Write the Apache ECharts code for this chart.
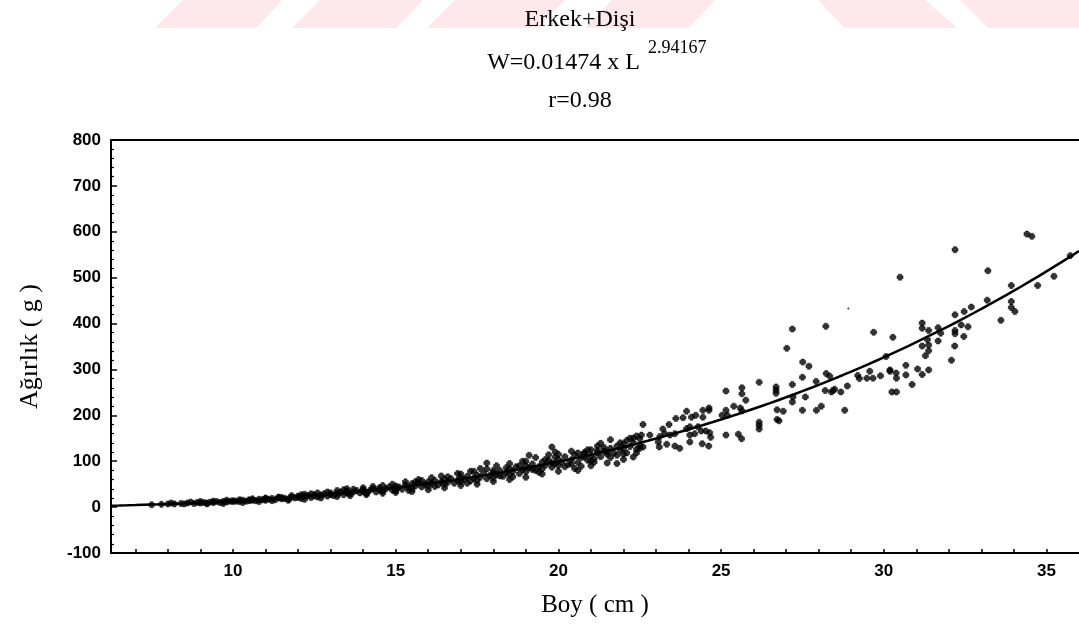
<!DOCTYPE html>
<html>
<head>
<meta charset="utf-8">
<script src="https://cdn.jsdelivr.net/npm/echarts@6/dist/echarts.min.js"></script>
<style>
  html, body { margin: 0; padding: 0; background: #fff; }
  #chart { width: 1079px; height: 637px; }
</style>
</head>
<body>
<div id="chart"></div>
<script>
// Length–weight relation W = a · L^b (both sexes pooled)
const katsayiA = 0.01474;
const usB = 2.94167;
const korelasyon = 0.98;

// Axis ticks
const boyEtiketleri = [10, 15, 20, 25, 30, 35];
const boyAraTikler = [7, 8, 9, 10, 11, 12, 13, 14, 15, 16, 17, 18, 19, 20, 21, 22, 23, 24, 25,
  26, 27, 28, 29, 30, 31, 32, 33, 34, 35];
const boyMin = 6.25, boyMax = 36;
const agirlikMin = -100, agirlikMax = 800, agirlikAdim = 100;

// Measured fish [length cm, weight g] — small fish
const olcumKucuk = [
  [7.5,5],[7.8,6],[8.0,7],[8.1,9],[8.2,7],[8.4,8],[8.5,7],[8.6,9],[8.7,11],[8.8,8],[8.9,10],
  [9.0,9],[9.0,12],[9.1,10],[9.2,9],[9.2,7],[9.3,11],[9.4,10],[9.4,13],[9.5,12],[9.6,10],
  [9.7,12],[9.7,8],[9.8,11],[9.8,15],[9.9,13],
  [10.0,12],[10.0,14],[10.1,13],[10.2,12],[10.2,16],[10.3,15],[10.3,10],[10.4,13],[10.5,14],
  [10.5,16],[10.6,15],[10.6,18],[10.7,14],[10.8,17],[10.8,12],[10.9,16],[11.0,15],[11.0,18],
  [11.0,20],[11.1,17],[11.2,19],[11.2,14],[11.3,16],[11.4,20],[11.4,22],[11.5,18],[11.5,21],
  [11.6,19],[11.7,17],[11.7,15],[11.8,22],[11.8,25],[11.9,20],[12.0,21],[12.0,24],[12.1,19],
  [12.1,27],[12.2,23],[12.2,28],[12.2,17],[12.3,25],[12.4,21],[12.4,29],[12.5,24],[12.5,27],
  [12.6,22],[12.6,31],[12.7,26],[12.7,20],[12.8,29],[12.9,24],[12.9,33],[13.0,27],[13.0,31],
  [13.1,25],[13.2,29],[13.2,36],[13.2,23],[13.3,33],[13.4,27],[13.4,38],[13.5,31],[13.5,35],
  [13.5,40],[13.6,29],[13.6,25],[13.7,33],[13.7,39],[13.8,36],[13.9,31],[14.0,34],[14.0,38],
  [14.0,42],[14.1,30],[14.1,27],[14.2,36],[14.3,40],[14.3,45],[14.4,33],[14.5,38],[14.5,42],
  [14.6,35],[14.6,47],[14.6,30],[14.7,40],[14.8,44],[14.9,37],[14.9,50],[15.0,41],[15.0,46],
  [15.0,36],[15.0,32]
];

// Medium fish
const olcumOrta = [
  [15.1,44],[15.2,39],[15.3,48],[15.3,55],[15.4,43],[15.4,36],[15.5,51],[15.5,40],[15.5,34],
  [15.6,46],[15.6,55],[15.7,53],[15.7,60],[15.8,44],[15.8,58],[15.9,50],[16.0,55],[16.0,46],
  [16.0,38],[16.1,52],[16.1,64],[16.2,58],[16.2,45],[16.3,48],[16.4,55],[16.4,68],[16.5,60],
  [16.5,50],[16.5,42],[16.6,54],[16.6,66],[16.7,62],[16.8,52],[16.9,58],[16.9,73],[17.0,64],
  [17.0,55],[17.0,72],[17.0,47],[17.1,60],[17.2,67],[17.2,52],[17.3,57],[17.3,78],[17.4,63],
  [17.4,78],[17.5,70],[17.5,58],[17.5,50],[17.6,65],[17.6,84],[17.7,74],[17.8,62],[17.8,96],
  [17.8,83],[17.9,69],[18.0,75],[18.0,64],[18.0,80],[18.0,56],[18.1,71],[18.1,90],[18.2,80],
  [18.2,68],[18.3,67],[18.4,76],[18.4,86],[18.5,84],[18.5,70],[18.5,95],[18.5,60],[18.6,78],
  [18.6,66],[18.7,88],[18.8,73],[18.8,90],[18.9,82],[18.9,100],[19.0,90],[19.0,77],[19.0,100],
  [19.0,65],[19.1,85],[19.1,113],[19.2,94],[19.2,82],[19.3,80],[19.3,108],[19.4,88],[19.4,76],
  [19.5,98],[19.5,83],[19.5,72],[19.6,91],[19.6,104],[19.7,102],[19.7,114],[19.8,87],[19.8,131],
  [19.8,96],[19.9,95],[19.9,120],[19.9,109],[20.0,104],[20.0,90],[20.0,115],[20.0,78],[20.1,98],
  [20.2,110],[20.2,88],[20.3,93],[20.4,103],[20.4,122],[20.4,94],[20.5,114],[20.5,84],[20.6,97],
  [20.6,80],[20.6,118],[20.7,108],[20.7,89],[20.8,119],[20.8,109],[20.8,117],[20.9,102],
  [20.9,125],[21.0,113],[21.0,125],[21.0,100],[21.0,90],[21.1,106],[21.1,98],[21.2,118],
  [21.2,124],[21.2,133],[21.3,110],[21.3,139],[21.4,122],[21.4,130],[21.5,115],[21.5,120],
  [21.5,96],[21.6,128],[21.6,147],[21.6,108],[21.7,118],[21.8,113],[21.8,95],[21.8,133],
  [21.9,124],[21.9,140],[22.0,138],[22.0,128],[22.0,115],[22.0,104],[22.1,118],[22.1,145],
  [22.2,132],[22.2,150],[22.3,109],[22.3,150],[22.3,140],[22.4,126],[22.4,155],[22.4,118],
  [22.5,135]
];

// Large fish
const olcumBuyuk = [
  [22.5,149],[22.6,131],[22.5,128],[22.6,180],[22.55,157],[22.81,157],[23.07,142],[23.1,131],
  [23.12,154],[23.21,170],[23.27,160],[23.33,137],[23.4,180],[23.43,157],[23.58,160],[23.58,133],
  [23.61,193],[23.73,128],[23.83,195],[23.94,209],[23.94,171],[24.04,175],[24.04,157],[24.04,142],
  [24.09,196],[24.19,160],[24.22,200],[24.29,175],[24.39,166],[24.42,138],[24.44,211],[24.44,196],
  [24.53,166],[24.62,133],[24.63,216],[24.63,211],[24.65,162],[24.68,152],[25.03,200],[25.15,253],
  [25.15,211],[25.15,157],[25.19,200],[25.39,220],[25.53,159],[25.59,216],[25.63,149],[25.64,260],
  [25.64,247],[25.64,210],[25.76,233],[26.17,272],[26.17,185],[26.17,178],[26.17,170],[26.69,262],
  [26.69,255],[26.69,248],[26.72,212],[26.72,191],[26.78,188],[26.91,209],[27.02,346],[27.19,267],
  [27.19,388],[27.19,229],[27.21,240],[27.5,283],[27.5,211],[27.51,316],[27.59,240],[27.7,307],
  [27.92,274],[27.93,211],[28.08,220],[28.2,254],[28.22,394],[28.23,291],[28.34,285],[28.39,251],
  [28.44,254],[28.49,257],[28.68,251],[28.8,211],[28.88,264],[29.2,287],[29.25,280],[29.48,281],
  [29.57,296],[29.67,281],[29.69,381],[29.9,286],[30.07,328],[30.19,299],[30.19,296],[30.25,251],
  [30.28,370],[30.38,292],[30.39,251],[30.39,281],[30.5,501],[30.68,309],[30.68,288],[30.87,267],
  [31.04,301],[31.18,401],[31.18,390],[31.18,351],[31.18,289],[31.28,330],[31.34,365],[31.38,385],
  [31.38,353],[31.38,341],[31.38,299],[31.67,391],[31.67,362],[31.75,379],[32.08,320],[32.18,351],
  [32.19,561],[32.19,419],[32.19,385],[32.19,378],[32.38,397],[32.46,372],[32.47,426],[32.59,393],
  [32.69,436],[33.18,451],[33.2,515],[33.6,407],[33.92,483],[33.92,448],[33.92,435],[34.03,426],
  [34.4,595],[34.55,590],[34.73,483],[35.23,503],[35.73,548]
];
// A single faint point
const olcumSoluk = [[28.91,433]];

// Fitted curve from the stated coefficients
const egri = [];
for (let i = 0; i <= 119; i++) {
  const L = boyMin + i * 0.25;
  egri.push([L, katsayiA * Math.pow(L, usB)]);
}

const serif = '"Liberation Serif", "Times New Roman", serif';
const sans = '"Liberation Sans", Arial, sans-serif';

const chart = echarts.init(document.getElementById('chart'), null, { renderer: 'canvas' });

// Faint pink watermark bands at the top edge
const pembe = '#fde8ec';
const bantlar = [
  [[183,0],[282,0],[256,28],[155,28]],
  [[320,0],[423,0],[396,28],[292,28]],
  [[455,0],[565,0],[537,28],[427,28]],
  [[612,0],[715,0],[688,28],[585,28]],
  [[818,0],[925,0],[957,28],[845,28]],
  [[960,0],[1079,0],[1079,28],[988,28]]
];

// Heavy plus-shaped dot used for every measured fish
const nokta = 'path://M1.5,0L4.5,0L4.5,1.5L6,1.5L6,4.5L4.5,4.5L4.5,6L1.5,6L1.5,4.5L0,4.5L0,1.5L1.5,1.5Z';

chart.setOption({
  animation: false,
  backgroundColor: '#fff',
  graphic: [
    ...bantlar.map(p => ({ type: 'polygon', z: -10, silent: true, shape: { points: p }, style: { fill: pembe } })),
    { type: 'text', x: 580, y: 20, style: { text: 'Erkek+Dişi', font: '24px ' + serif, fill: '#000', textAlign: 'center', textVerticalAlign: 'middle' } },
    { type: 'text', x: 640, y: 63, style: { text: 'W=' + katsayiA.toFixed(5) + ' x L', font: '24px ' + serif, fill: '#000', textAlign: 'right', textVerticalAlign: 'middle' } },
    { type: 'text', x: 648, y: 48, style: { text: String(usB), font: '18px ' + serif, fill: '#000', textAlign: 'left', textVerticalAlign: 'middle' } },
    { type: 'text', x: 580, y: 101, style: { text: 'r=' + korelasyon.toFixed(2), font: '24px ' + serif, fill: '#000', textAlign: 'center', textVerticalAlign: 'middle' } }
  ],
  grid: { left: 111, right: 0, top: 140, bottom: 84, containLabel: false },
  xAxis: [{
    type: 'value', min: boyMin, max: boyMax, position: 'bottom',
    name: 'Boy ( cm )', nameLocation: 'middle', nameGap: 40,
    nameTextStyle: { fontFamily: serif, fontSize: 25, color: '#000' },
    axisLine: { show: true, onZero: false, lineStyle: { color: '#000', width: 2 } },
    axisTick: { show: true, inside: true, length: 4, customValues: boyAraTikler, lineStyle: { color: '#000', width: 1.5 } },
    axisLabel: { customValues: boyEtiketleri, fontFamily: sans, fontWeight: 'bold', fontSize: 17, color: '#000', margin: 10 },
    splitLine: { show: false }
  }, {
    type: 'value', min: boyMin, max: boyMax, position: 'top',
    axisLine: { show: true, onZero: false, lineStyle: { color: '#000', width: 2 } },
    axisTick: { show: false }, axisLabel: { show: false }, splitLine: { show: false }
  }],
  yAxis: {
    type: 'value', min: agirlikMin, max: agirlikMax, interval: agirlikAdim,
    name: 'Ağırlık ( g )', nameLocation: 'middle', nameGap: 68,
    nameTextStyle: { fontFamily: serif, fontSize: 26, color: '#000' },
    axisLine: { show: true, onZero: false, lineStyle: { color: '#000', width: 2 } },
    axisTick: { show: true, inside: true, length: 6, lineStyle: { color: '#000', width: 1.5 } },
    minorTick: { show: true, splitNumber: 5, length: 3, lineStyle: { color: '#000', width: 1.2 } },
    axisLabel: { fontFamily: sans, fontWeight: 'bold', fontSize: 17, color: '#000', margin: 10 },
    splitLine: { show: false }
  },
  series: [
    {
      type: 'scatter', name: 'Erkek+Dişi', xAxisIndex: 0,
      data: olcumKucuk.concat(olcumOrta, olcumBuyuk),
      symbol: nokta, symbolSize: 6,
      itemStyle: { color: '#000', borderColor: '#000', borderWidth: 0.6 }, z: 3
    },
    {
      type: 'scatter', xAxisIndex: 0, data: olcumSoluk,
      symbol: 'circle', symbolSize: 2, itemStyle: { color: '#000' }, z: 3
    },
    {
      type: 'line', xAxisIndex: 0, data: egri, showSymbol: false, smooth: false,
      lineStyle: { color: '#000', width: 2.5 }, z: 4, silent: true
    }
  ]
});
</script>
</body>
</html>
